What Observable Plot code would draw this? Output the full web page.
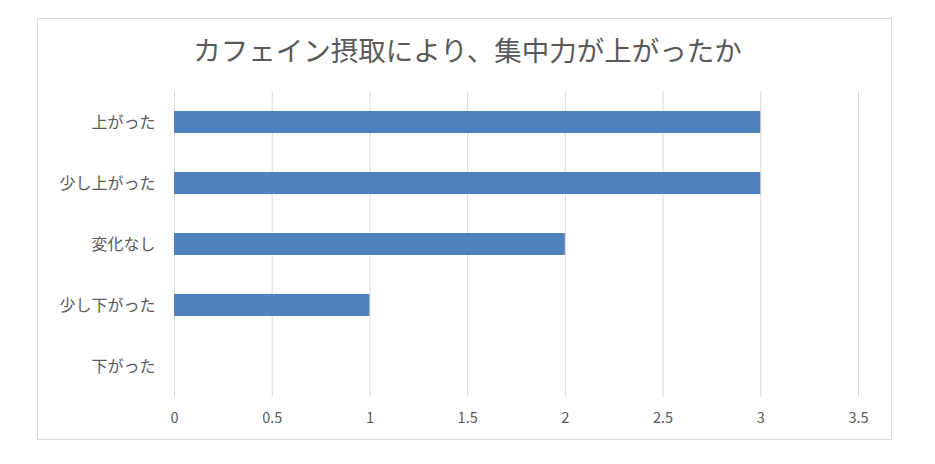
<!DOCTYPE html>
<html>
<head>
<meta charset="utf-8">
<script src="https://cdn.jsdelivr.net/npm/d3@7"></script>
<script src="https://cdn.jsdelivr.net/npm/@observablehq/plot@0.6"></script>
<style>
  body { margin: 0; background: #fff; width: 935px; height: 464px; position: relative; overflow: hidden; font-family: "Noto Sans CJK JP", "Noto Sans", sans-serif; }
  #frame { position: absolute; left: 37px; top: 18px; width: 855px; height: 422px; border: 1px solid #d9d9d9; box-sizing: border-box; }
  #title { position: absolute; left: 0; width: 935px; top: 31px; text-align: center; font-size: 27.5px; color: #595959; line-height: 36px; }
  #chart { position: absolute; left: 0; top: 85px; }
</style>
</head>
<body>
<div id="frame"></div>
<div id="title">カフェイン摂取により、集中力が上がったか</div>
<div id="chart"></div>
<script>
const categories = ["上がった", "少し上がった", "変化なし", "少し下がった", "下がった"];
const values = [3, 3, 2, 1, 0];
const xTicks = [0, 0.5, 1, 1.5, 2, 2.5, 3, 3.5];

const data = categories.map((c, i) => ({category: c, value: values[i]}));

const chart = Plot.plot({
  width: 935,
  height: 350,
  marginLeft: 174,
  marginRight: 77,
  marginTop: 6,
  marginBottom: 38,
  style: {fontFamily: '"Noto Sans CJK JP", "Noto Sans", sans-serif', fontSize: "13px", color: "#595959", background: "transparent"},
  x: {domain: [0, 3.5], ticks: xTicks, label: null},
  y: {domain: categories, paddingInner: 0.64, paddingOuter: 0.32, label: null},
  marks: [
    Plot.gridX(xTicks, {stroke: "#d9d9d9", strokeOpacity: 1}),
    Plot.barX(data, {x: "value", y: "category", fill: "#4F81BD"}),
    Plot.axisX(xTicks, {tickSize: 0, tickPadding: 15, tickFormat: d => String(d), label: null, fontSize: 14.5}),
    Plot.axisY(categories, {tickSize: 0, tickPadding: 19, label: null, fontSize: 16})
  ]
});
document.getElementById("chart").appendChild(chart);
</script>
</body>
</html>
